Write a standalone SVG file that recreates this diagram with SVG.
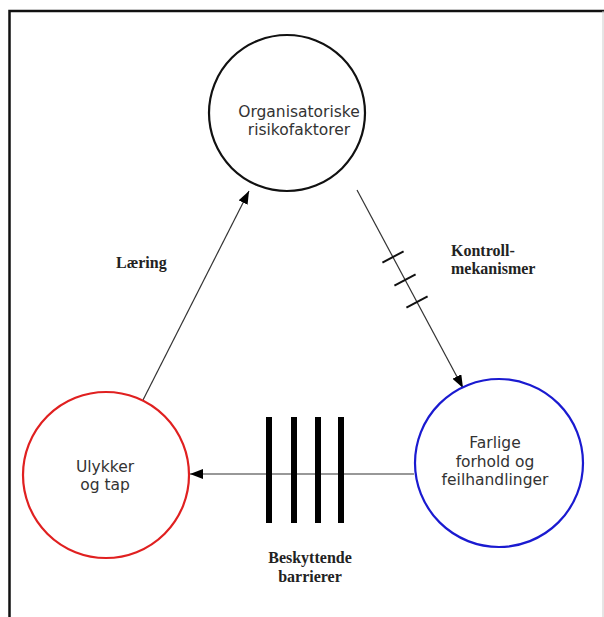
<svg xmlns="http://www.w3.org/2000/svg" width="604" height="617" viewBox="0 0 604 617">
<style>
.node{fill:#fff;stroke-width:2.2}
.lbl{font-family:"DejaVu Sans",Verdana,sans-serif;font-size:15.5px;fill:#333;text-anchor:middle}
.cap{font-family:"Liberation Serif","Times New Roman",serif;font-size:16px;font-weight:bold;fill:#222}
.conn{stroke:#333;stroke-width:1.2;fill:none}
.tick{stroke:#111;stroke-width:2}
.bar{fill:#000}
</style>
<defs>
<marker id="ah" viewBox="0 0 13 10" refX="13" refY="5" markerWidth="13" markerHeight="10" markerUnits="userSpaceOnUse" orient="auto">
<path d="M0,0 L13,5 L0,10 Z" fill="#000"/>
</marker>
</defs>
<rect width="604" height="617" fill="#fff"/>
<g id="frame">
<path d="M9.5,617 V11 H604" fill="none" stroke="#111" stroke-width="2.5"/>
<line x1="603" y1="11" x2="603" y2="617" stroke="#ccc" stroke-width="1"/>
</g>
<g id="connectors">
<line class="conn" x1="143" y1="400" x2="249" y2="191" marker-end="url(#ah)"/>
<line class="conn" x1="357" y1="190" x2="463" y2="388" marker-end="url(#ah)"/>
<line class="conn" x1="414" y1="474" x2="190" y2="474" marker-end="url(#ah)"/>
<g id="kontroll-ticks">
<line class="tick" x1="382.4" y1="262.7" x2="403.6" y2="251.3"/>
<line class="tick" x1="394.4" y1="285.7" x2="415.6" y2="274.3"/>
<line class="tick" x1="406.4" y1="307.7" x2="427.6" y2="296.3"/>
</g>
<g id="barrierer">
<rect class="bar" x="266" y="417" width="6" height="106"/>
<rect class="bar" x="291" y="417" width="6" height="106"/>
<rect class="bar" x="315" y="417" width="6" height="106"/>
<rect class="bar" x="338" y="417" width="6" height="106"/>
</g>
</g>
<g id="node-org">
<circle class="node" cx="287" cy="113" r="78" stroke="#111"/>
<text class="lbl" x="299" y="117">Organisatoriske</text>
<text class="lbl" x="299" y="135">risikofaktorer</text>
</g>
<g id="node-ulykker">
<circle class="node" cx="106" cy="475" r="83" stroke="#e02020"/>
<text class="lbl" x="105" y="472">Ulykker</text>
<text class="lbl" x="105" y="490">og tap</text>
</g>
<g id="node-farlige">
<circle class="node" cx="499" cy="463" r="84" stroke="#1a1ad0"/>
<text class="lbl" x="495" y="448">Farlige</text>
<text class="lbl" x="495" y="467">forhold og</text>
<text class="lbl" x="495" y="485">feilhandlinger</text>
</g>
<g id="labels">
<text class="cap" x="116" y="268">Læring</text>
<text class="cap" x="451" y="256">Kontroll-</text>
<text class="cap" x="451" y="274">mekanismer</text>
<text class="cap" x="310" y="563" text-anchor="middle">Beskyttende</text>
<text class="cap" x="310" y="582" text-anchor="middle">barrierer</text>
</g>
</svg>
